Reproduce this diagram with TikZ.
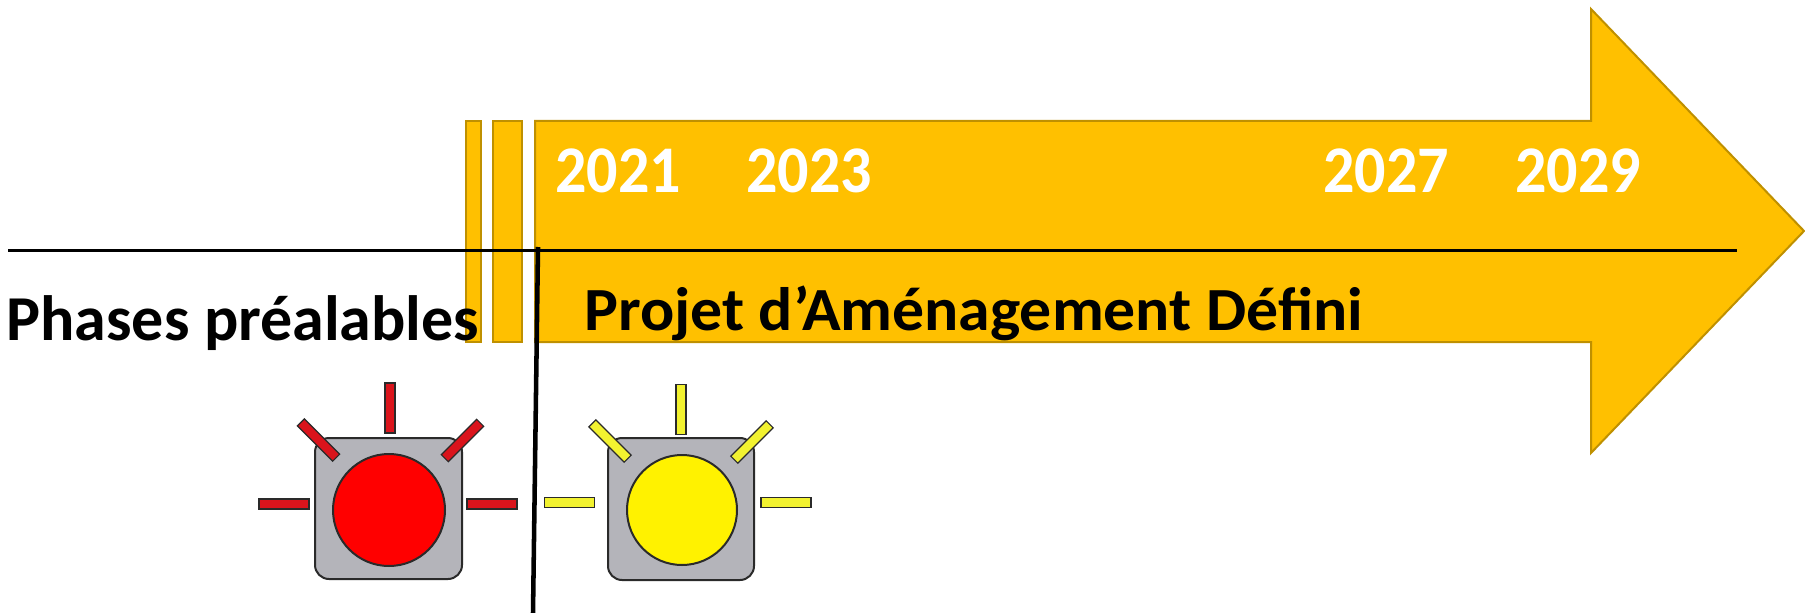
\documentclass[tikz,border=0pt]{standalone}
\usepackage{fontspec}
\setmainfont{Carlito}
\newfontfamily\yearfont[FakeStretch=0.93]{Carlito}
\newfontfamily\projfont[FakeStretch=1.04]{Carlito}
\newdimen\pxu \pxu=0.75pt
\definecolor{gold}{HTML}{FFC000}
\definecolor{golddark}{HTML}{BF9000}
\definecolor{lampgray}{HTML}{B4B4BA}
\definecolor{rayred}{HTML}{DA141C}
\definecolor{rayyellow}{HTML}{F2F230}
\definecolor{lampedge}{HTML}{2A2A2A}
\begin{document}
\begin{tikzpicture}[x=0.75pt,y=-0.75pt,
 arrowshape/.style={fill=gold,draw=golddark,line width=1.5pt,line join=miter},
 yeartext/.style={text=white,font=\yearfont\fontsize{50}{60}\selectfont\bfseries,inner sep=0pt,anchor=base west},
 phasetext/.style={text=black,inner sep=0pt,anchor=base west},
 axisline/.style={line width=2.25pt,black},
 splitline/.style={line width=3.4pt,black},
 lampbox/.style={fill=lampgray,draw=lampedge,line width=1.5pt,rounded corners=10.5pt},
 lampface/.style={draw=lampedge,line width=1.5pt},
 raybar/.style={rectangle,draw=lampedge,line width=0.9pt,minimum width=50\pxu,minimum height=10\pxu,inner sep=0pt},
]
\useasboundingbox (0,0) rectangle (1805,613);
% timeline arrow and bars
\draw[arrowshape] (535,121) -- (1591,121) -- (1591,9) -- (1804,231) -- (1591,453) -- (1591,342) -- (535,342) -- cycle;
\draw[arrowshape] (466,121) rectangle (481,342);
\draw[arrowshape] (493,121) rectangle (522,342);
% axis lines
\coordinate (hl) at (8,250);
\coordinate (hr) at (1737,250);
\coordinate (vt) at (538,247);
\coordinate (vb) at (533,613);
\draw[axisline] (hl) -- (hr);
\draw[splitline] (vt) -- (vb);
% texts
\node[yeartext] (y2021) at (555,192) {2021};
\node[yeartext] (y2023) at (746,192) {2023};
\node[yeartext] (y2027) at (1323,192) {2027};
\node[yeartext] (y2029) at (1515,192) {2029};
\node[phasetext,font=\projfont\fontsize{46}{55}\selectfont\bfseries] (pad) at (584,330) {Projet d’Aménagement Défini};
\node[phasetext,font=\fontsize{48}{57}\selectfont\bfseries] (pre) at (6,340) {Phases préalables};
% red lamp
\draw[lampbox] (315,438) rectangle (462,579);
\draw[lampface,fill=red] (389,510) circle[radius=56];
\node[raybar,fill=rayred,rotate=90] (rt) at (390,408) {};
\node[raybar,fill=rayred] (rl) at (284,504) {};
\node[raybar,fill=rayred] (rr) at (492,504) {};
\node[raybar,fill=rayred,rotate=-45] (rdl) at (318.5,440) {};
\node[raybar,fill=rayred,rotate=45] (rdr) at (462.5,440.5) {};
% yellow lamp
\draw[lampbox] (608,438) rectangle (754,580);
\draw[lampface,fill=yellow] (682,510) circle[radius=55];
\node[raybar,fill=rayyellow,rotate=90] (yt) at (681,409.5) {};
\node[raybar,fill=rayyellow] (yl) at (569.5,502.5) {};
\node[raybar,fill=rayyellow] (yr) at (786,502.5) {};
\node[raybar,fill=rayyellow,rotate=-45] (ydl) at (610,441) {};
\node[raybar,fill=rayyellow,rotate=45] (ydr) at (752,442) {};
\end{tikzpicture}
\end{document}
